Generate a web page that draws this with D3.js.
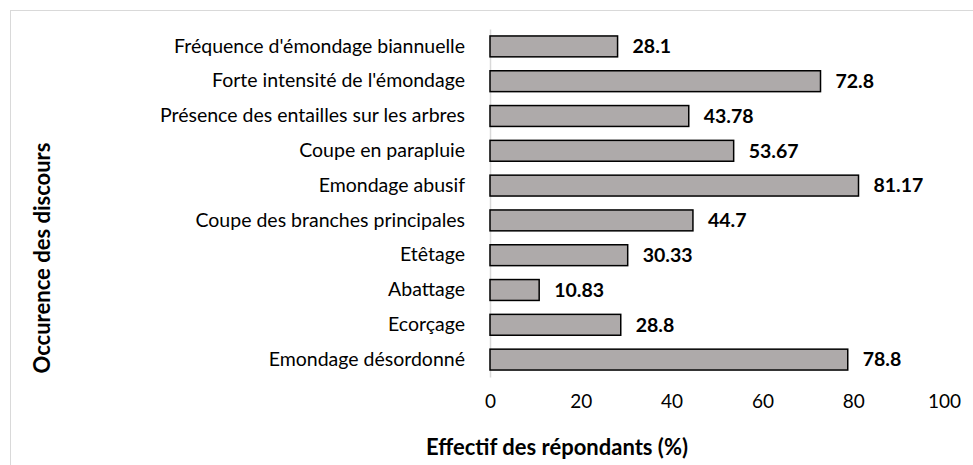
<!DOCTYPE html>
<html>
<head>
<meta charset="utf-8">
<script src="https://cdn.jsdelivr.net/npm/d3@7"></script>
<style>
  body { margin: 0; background: #fff; }
  text { font-family: Lato, "Open Sans", sans-serif; fill: #000; }
  .cat-label { font-size: 19.5px; }
  .tick-label { font-size: 19px; }
  .value-label { font-size: 19.5px; font-weight: bold; }
  .axis-title { font-size: 22px; font-weight: bold; }
</style>
</head>
<body>
<svg id="chart"></svg>
<script>
const categories = [
  "Fréquence d'émondage biannuelle",
  "Forte intensité de l'émondage",
  'Présence des entailles sur les arbres',
  'Coupe en parapluie',
  'Emondage abusif',
  'Coupe des branches principales',
  'Etêtage',
  'Abattage',
  'Ecorçage',
  'Emondage désordonné',
];
const values = [28.1, 72.8, 43.78, 53.67, 81.17, 44.7, 30.33, 10.83, 28.8, 78.8];
const valueLabels = ['28.1', '72.8', '43.78', '53.67', '81.17', '44.7', '30.33', '10.83', '28.8', '78.8'];
const xTicks = [0, 20, 40, 60, 80, 100];

const width = 973;
const height = 465;
const margin = { top: 29, right: 29, bottom: 88, left: 490 };

const svg = d3.select('#chart')
  .attr('width', width)
  .attr('height', height);

// outer frame
svg.append('rect')
  .attr('x', 10.5)
  .attr('y', 10.5)
  .attr('width', width)
  .attr('height', height)
  .style('fill', 'none')
  .style('stroke', '#d9d9d9')
  .style('stroke-width', 1);

const xScale = d3.scaleLinear()
  .domain([0, 100])
  .range([margin.left, width - margin.right]);

const yScale = d3.scaleBand()
  .domain(categories)
  .range([margin.top, height - margin.bottom])
  .paddingInner(0.4)
  .paddingOuter(0.2);

// x axis labels (no line, no ticks)
const xAxis = svg.append('g')
  .attr('transform', `translate(0, ${height - margin.bottom})`)
  .call(d3.axisBottom(xScale).tickValues(xTicks).tickSize(0).tickPadding(18));
xAxis.select('.domain').remove();
xAxis.selectAll('text')
  .attr('class', 'tick-label')
  .attr('font-family', null)
  .attr('font-size', null);

// y axis: gray vertical line + category labels
const yAxis = svg.append('g')
  .attr('transform', `translate(${margin.left}, 0)`)
  .call(d3.axisLeft(yScale).tickSize(0).tickPadding(25));
yAxis.select('.domain')
  .attr('stroke', '#d9d9d9')
  .attr('stroke-width', 1.5);
yAxis.selectAll('text')
  .attr('class', 'cat-label')
  .attr('font-family', null)
  .attr('font-size', null);

const rows = categories.map((c, i) => ({ cat: c, value: values[i], label: valueLabels[i] }));

svg.append('g')
  .selectAll('rect')
  .data(rows)
  .join('rect')
  .attr('x', xScale(0))
  .attr('y', (d) => yScale(d.cat))
  .attr('width', (d) => xScale(d.value) - xScale(0))
  .attr('height', yScale.bandwidth())
  .style('fill', '#aeaaaa')
  .style('stroke', '#000')
  .style('stroke-width', 1.5);

svg.append('g')
  .selectAll('text')
  .data(rows)
  .join('text')
  .attr('class', 'value-label')
  .attr('x', (d) => xScale(d.value) + 15)
  .attr('y', (d) => yScale(d.cat) + yScale.bandwidth() / 2)
  .attr('dy', '0.35em')
  .text((d) => d.label);

// axis titles
svg.append('text')
  .attr('class', 'axis-title')
  .attr('text-anchor', 'middle')
  .attr('x', 557)
  .attr('y', 447)
  .attr('dy', '0.35em')
  .text('Effectif des répondants (%)');

svg.append('text')
  .attr('class', 'axis-title')
  .attr('text-anchor', 'middle')
  .attr('transform', 'translate(42, 258) rotate(-90)')
  .attr('dy', '0.35em')
  .text('Occurence des discours');
</script>
</body>
</html>
